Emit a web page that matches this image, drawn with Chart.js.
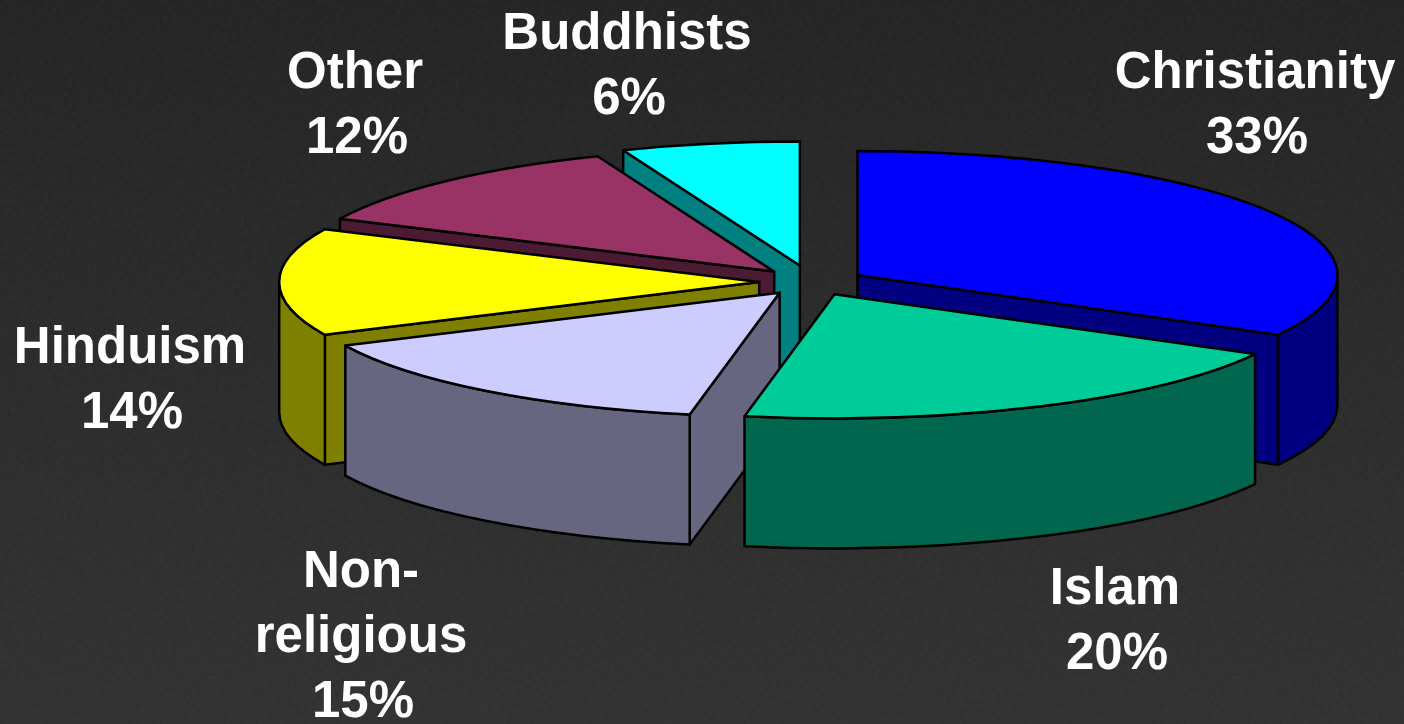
<!DOCTYPE html>
<html>
<head>
<meta charset="utf-8">
<title>World religions</title>
<script src="https://cdn.jsdelivr.net/npm/chart.js@4"></script>
<style>
  html, body { margin:0; padding:0; width:1404px; height:724px; overflow:hidden; background:#2d2d2d; }
  #wrap { position:relative; width:1404px; height:724px; background:linear-gradient(180deg, #222222 0%, #2a2a2a 55%, #303030 100%); }
  #grain { position:absolute; left:0; top:0; width:1404px; height:724px; opacity:.05;
    background-image:url("data:image/svg+xml,%3Csvg xmlns='http://www.w3.org/2000/svg' width='1404' height='724'%3E%3Cfilter id='n'%3E%3CfeTurbulence type='fractalNoise' baseFrequency='0.25' numOctaves='2' seed='4'/%3E%3CfeColorMatrix type='saturate' values='0'/%3E%3C/filter%3E%3Crect width='1404' height='724' filter='url(%23n)'/%3E%3C/svg%3E"); }
  canvas { position:absolute; left:0; top:0; }
</style>
</head>
<body>
<div id="wrap"><div id="grain"></div><canvas id="pie" width="1404" height="724"></canvas></div>
<script>
const categories = ['Christianity', 'Islam', 'Non-religious', 'Hinduism', 'Other', 'Buddhists'];
const shares     = [33, 20, 15, 14, 12, 6];
const explode    = [11, 11, 11, 11, 11.5, 13.5];
const topColors  = ['#0000ff', '#00cc99', '#ccccff', '#ffff00', '#993366', '#00ffff'];
const sideColors = ['#000080', '#00664d', '#666680', '#808000', '#4d1a33', '#008080'];
const labelLines = [['Christianity', '33%'], ['Islam', '20%'], ['Non-', 'religious', '15%'], ['Hinduism', '14%'], ['Other', '12%'], ['Buddhists', '6%']];

// where the labels and the squashed pie sit on the page
const labelSpots = [[1255, 74], [1115, 590], [361, 573], [130, 349], [355, 74], [627, 35]];
const labelStep = 65;
const pie = { cx: 812, cy: 282, rx: 480, ry: 124, depth: 130 };

// chart.js works out the angles, this plugin tilts them into a 3D pie
const tiltedPie = {
  id: 'tiltedPie',
  beforeDatasetsDraw(chart) {
    const ctx = chart.ctx;
    const arcs = chart.getDatasetMeta(0).data.map((arc, i) => {
      const mid = (arc.startAngle + arc.endAngle) / 2;
      const push = explode[i] / 100;
      return {
        i, start: arc.startAngle, end: arc.endAngle,
        ox: pie.cx + Math.cos(mid) * push * pie.rx,
        oy: pie.cy + Math.sin(mid) * push * pie.ry,
      };
    });
    arcs.sort((a, b) => a.oy - b.oy);

    ctx.save();
    ctx.lineWidth = 2.5;
    ctx.lineJoin = 'round';
    ctx.strokeStyle = '#000';
    arcs.forEach(a => {
      const rim = t => [a.ox + Math.cos(t) * pie.rx, a.oy + Math.sin(t) * pie.ry];
      const paint = color => { ctx.fillStyle = color; ctx.fill(); ctx.stroke(); };
      const side = (t) => {
        const p = rim(t);
        ctx.beginPath();
        ctx.moveTo(a.ox, a.oy);
        ctx.lineTo(p[0], p[1]);
        ctx.lineTo(p[0], p[1] + pie.depth);
        ctx.lineTo(a.ox, a.oy + pie.depth);
        ctx.closePath();
        paint(sideColors[a.i]);
      };
      // only the cut faces turned towards the viewer
      if (-Math.cos(a.start) > 0.001) side(a.start);
      if (Math.cos(a.end) > 0.001) side(a.end);

      // outer wall, front half of the rim only
      const twoPi = Math.PI * 2;
      for (const k of [-1, 0, 1]) {
        const from = Math.max(a.start, k * twoPi);
        const to = Math.min(a.end, k * twoPi + Math.PI);
        if (to <= from) continue;
        ctx.beginPath();
        ctx.ellipse(a.ox, a.oy, pie.rx, pie.ry, 0, from, to);
        ctx.ellipse(a.ox, a.oy + pie.depth, pie.rx, pie.ry, 0, to, from, true);
        ctx.closePath();
        paint(sideColors[a.i]);
      }

      // top face
      ctx.beginPath();
      ctx.moveTo(a.ox, a.oy);
      ctx.ellipse(a.ox, a.oy, pie.rx, pie.ry, 0, a.start, a.end);
      ctx.closePath();
      paint(topColors[a.i]);
    });

    ctx.fillStyle = '#fff';
    ctx.font = 'bold 51px "Liberation Sans", Arial, sans-serif';
    ctx.textAlign = 'center';
    ctx.textBaseline = 'middle';
    labelLines.forEach((lines, i) => {
      lines.forEach((line, n) => {
        // the percent line sits a touch to the right in the original
        const nudge = n === lines.length - 1 ? 2 : 0;
        ctx.fillText(line, labelSpots[i][0] + nudge, labelSpots[i][1] + n * labelStep);
      });
    });
    ctx.restore();
    return false;
  }
};

new Chart(document.getElementById('pie').getContext('2d'), {
  type: 'pie',
  data: {
    labels: categories,
    datasets: [{ data: shares, backgroundColor: topColors, offset: explode, borderWidth: 0 }]
  },
  options: {
    responsive: false,
    animation: false,
    plugins: { legend: { display: false }, tooltip: { enabled: false } }
  },
  plugins: [tiltedPie]
});
</script>
</body>
</html>
